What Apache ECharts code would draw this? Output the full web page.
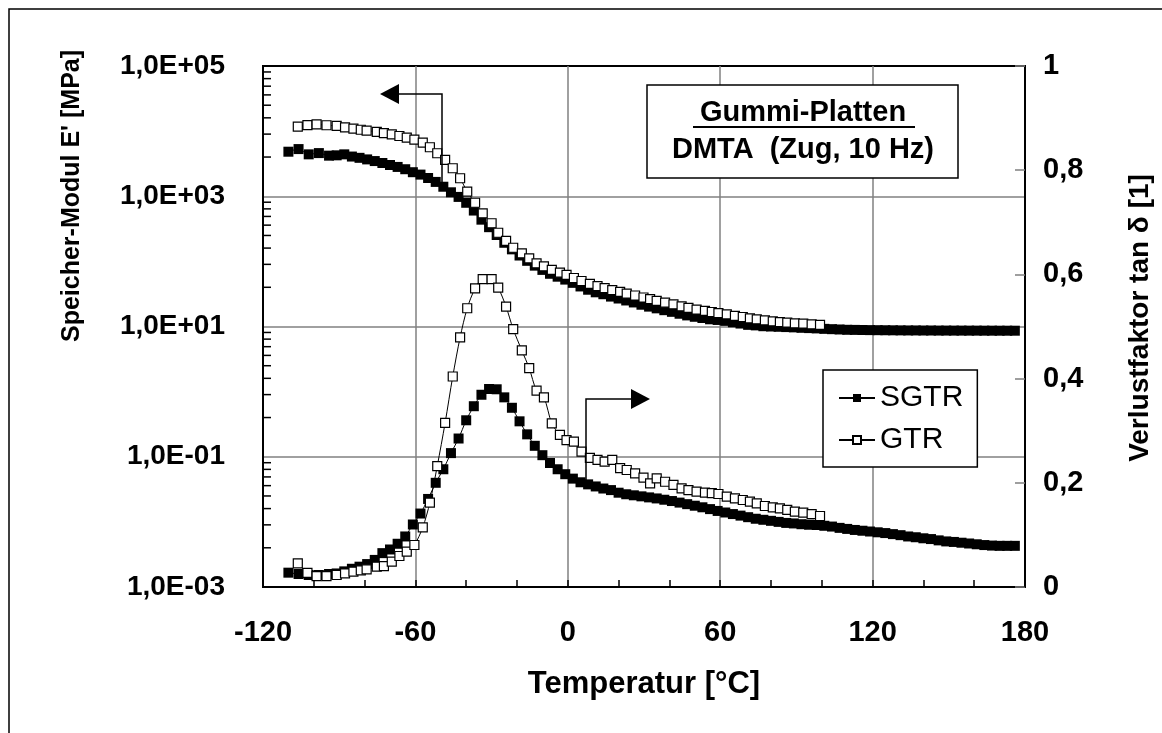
<!DOCTYPE html>
<html>
<head>
<meta charset="utf-8">
<script src="https://cdn.jsdelivr.net/npm/echarts@6/dist/echarts.min.js"></script>
<style>
    html, body { margin: 0; padding: 0; background: #fff; }
    #chart { width: 1162px; height: 733px; }
</style>
</head>
<body>
<div id="chart"></div>
<script>
// SGTR: Temperatur [°C], Speicher-Modul E' [MPa], tan delta [1]
const sgtrTemp = [-110, -106, -102, -98, -94, -91, -88, -85, -82, -79,
    -76, -73, -70, -67, -64, -61, -58, -55, -52, -49,
    -46, -43, -40, -37, -34, -31, -28, -25, -22, -19,
    -16, -13, -10, -7, -4, -1, 2, 5, 8, 11,
    14, 17, 20, 23, 26, 29, 32, 35, 38, 41,
    44, 47, 50, 53, 56, 59, 62, 65, 68, 71,
    74, 77, 80, 83, 86, 89, 92, 95, 98, 101,
    104, 107, 110, 113, 116, 119, 122, 125, 128, 131,
    134, 137, 140, 143, 146, 149, 152, 155, 158, 161,
    164, 167, 170, 173, 176];
const sgtrModul = [4830, 5300, 4400, 4600, 4200, 4250, 4400, 4070, 3890, 3680,
    3470, 3240, 3020, 2820, 2600, 2340, 2150, 1905, 1660, 1400,
    1150, 977, 794, 603, 437, 335, 254, 193, 153, 123,
    102, 86, 74, 64.5, 58.2, 52.5, 46.8, 41.2, 36.7, 33.5,
    31.3, 28.8, 26.9, 25.1, 23.4, 21.6, 20.2, 19.0, 17.8, 16.8,
    15.7, 14.8, 14.1, 13.5, 12.9, 12.6, 12.2, 11.6, 11.1, 10.6,
    10.4, 10.1, 10.0, 9.9, 9.8, 9.7, 9.55, 9.45, 9.35, 9.2,
    9.1, 9.0, 8.9, 8.87, 8.83, 8.8, 8.78, 8.76, 8.74, 8.72,
    8.7, 8.7, 8.68, 8.68, 8.66, 8.66, 8.65, 8.65, 8.64, 8.64,
    8.63, 8.63, 8.62, 8.62, 8.62];
const sgtrTanD = [0.0275, 0.025, 0.023, 0.023, 0.025, 0.026, 0.030, 0.035, 0.039, 0.044,
    0.052, 0.065, 0.072, 0.083, 0.097, 0.12, 0.141, 0.169, 0.200, 0.226,
    0.257, 0.285, 0.32, 0.347, 0.369, 0.380, 0.3795, 0.364, 0.344, 0.318,
    0.293, 0.271, 0.253, 0.238, 0.226, 0.2165, 0.208, 0.201, 0.197, 0.193,
    0.189, 0.186, 0.181, 0.178, 0.176, 0.174, 0.172, 0.17, 0.1675, 0.165,
    0.162, 0.159, 0.156, 0.153, 0.1495, 0.146, 0.143, 0.14, 0.137, 0.134,
    0.131, 0.129, 0.127, 0.125, 0.123, 0.122, 0.1205, 0.1195, 0.119, 0.1175,
    0.116, 0.1135, 0.1115, 0.1095, 0.108, 0.1065, 0.105, 0.1035, 0.1015, 0.0995,
    0.097, 0.0955, 0.0935, 0.092, 0.0895, 0.0875, 0.0865, 0.085, 0.0835, 0.082,
    0.0805, 0.0795, 0.079, 0.079, 0.079];

// GTR: gemessen bis ca. 100 °C
const gtrTemp = [-106.3, -102.5, -98.9, -95, -91, -87.7, -84.4, -81.5, -79.2, -75.2,
    -72.4, -69.3, -66.3, -63.4, -60.4, -57.1, -54.3, -51.4, -48.3, -45.3,
    -42.4, -39.6, -36.5, -33.5, -30, -27.4, -24.3, -21.5, -18.1, -15.2,
    -12.3, -9.4, -6.3, -3.1, -0.5, 2.4, 5.4, 8.7, 11.7, 14.5,
    17.5, 20.6, 23.2, 26.5, 29.8, 32.4, 35, 38.3, 41.6, 44.8,
    47.5, 50.7, 54, 56.7, 59.3, 62.6, 65.8, 68.9, 71.7, 74.4,
    77.6, 80.7, 83.5, 86.4, 89.4, 92.7, 96, 99.3];
const gtrModul = [11700, 12400, 12700, 12300, 12000, 11400, 10900, 10500, 10200, 9770,
    9330, 8910, 8410, 7940, 7410, 6640, 5650, 4570, 3610, 2690,
    1890, 1175, 794, 547, 385, 275, 206, 162, 133, 111,
    93.5, 84, 74, 67, 62, 55.6, 50, 45, 41.7, 38.9,
    36.3, 33.9, 32, 29.9, 27.9, 26.3, 24.8, 23.2, 21.9, 20.4,
    19.3, 18.2, 17.4, 16.7, 16, 15.3, 14.6, 14, 13.3, 12.9,
    12.4, 12, 11.7, 11.5, 11.2, 11.1, 10.8, 10.6];
const gtrTanD = [0.0455, 0.027, 0.021, 0.021, 0.023, 0.026, 0.0294, 0.032, 0.034, 0.039,
    0.040, 0.0486, 0.0595, 0.0678, 0.0806, 0.1146, 0.162, 0.232, 0.315, 0.404,
    0.479, 0.535, 0.573, 0.591, 0.591, 0.5745, 0.538, 0.495, 0.454, 0.42,
    0.377, 0.364, 0.314, 0.292, 0.282, 0.279, 0.26, 0.248, 0.244, 0.2405,
    0.244, 0.228, 0.2246, 0.218, 0.21, 0.199, 0.2086, 0.202, 0.196, 0.1894,
    0.186, 0.183, 0.181, 0.18, 0.1785, 0.1733, 0.170, 0.167, 0.1637, 0.1607,
    0.1555, 0.153, 0.151, 0.148, 0.1445, 0.1426, 0.14, 0.1363];

// Nebenstriche der log-Achse (Excel, Basis 100)
const logMinorFactors = [4, 9, 16, 25, 36, 49, 64, 81];
const logLabelDecades = [1e-3, 1e-1, 1e1, 1e3];

const FONT = '"Liberation Sans", Arial, sans-serif';
const GRID_GRAY = '#808080';
const NONE = 'rgba(0,0,0,0)';

function zip(xs, ys) {
    return xs.map((x, i) => [x, ys[i]]);
}

function formatExp(value) {
    let exp = Math.round(Math.log10(value));
    if ((exp + 3) % 2 !== 0) return '';
    let sign = exp < 0 ? '-' : '+';
    return '1,0E' + sign + String(Math.abs(exp)).padStart(2, '0');
}

function formatComma(value) {
    if (value === 0) return '0';
    if (value === 1) return '1';
    return value.toFixed(1).replace('.', ',');
}

let minorTickData = [];
logLabelDecades.forEach(dec => {
    logMinorFactors.forEach(f => minorTickData.push([-120, dec * f]));
});

function renderMinorTick(params, api) {
    let p = api.coord([api.value(0), api.value(1)]);
    return {
        type: 'line',
        shape: { x1: p[0], y1: p[1], x2: p[0] + 8, y2: p[1] },
        style: { stroke: '#000', lineWidth: 1.5 }
    };
}

function lineSeries(name, data, yAxisIndex, filled) {
    return {
        name: name,
        type: 'line',
        yAxisIndex: yAxisIndex,
        data: data,
        symbol: 'rect',
        symbolSize: filled ? 10 : 9,
        showAllSymbol: true,
        smooth: 0.3,
        itemStyle: filled
            ? { color: '#000', borderColor: '#000', borderWidth: 0 }
            : { color: '#fff', borderColor: '#000', borderWidth: 1.2 },
        lineStyle: { color: '#000', width: 1 },
        z: filled ? 3 : 4
    };
}

let chart = echarts.init(document.getElementById('chart'), null, { renderer: 'canvas' });

chart.setOption({
    animation: false,
    backgroundColor: '#fff',
    textStyle: { fontFamily: FONT },
    grid: {
        left: 263, top: 66, width: 762, height: 521,
        show: true,
        borderColor: '#000',
        borderWidth: 2,
        backgroundColor: NONE
    },
    legend: {
        data: ['SGTR', 'GTR'],
        orient: 'vertical',
        left: 823,
        top: 370,
        padding: [13, 14, 12, 15],
        itemGap: 12,
        itemWidth: 36,
        itemHeight: 10,
        backgroundColor: '#fff',
        borderColor: '#000',
        borderWidth: 1.5,
        borderRadius: 0,
        textStyle: { fontSize: 30, color: '#000', fontFamily: FONT }
    },
    xAxis: {
        type: 'value',
        min: -120,
        max: 180,
        interval: 60,
        name: 'Temperatur [°C]',
        nameLocation: 'middle',
        nameGap: 82,
        nameTextStyle: { fontSize: 31, fontWeight: 'bold', color: '#000', fontFamily: FONT },
        axisLine: { onZero: false, lineStyle: { color: '#000', width: 2 } },
        axisTick: { inside: true, length: 7, lineStyle: { color: '#000', width: 1.5 } },
        minorTick: { show: true, splitNumber: 3, length: 7, lineStyle: { color: '#000', width: 1.5 } },
        splitLine: {
            show: true,
            lineStyle: { color: [NONE, GRID_GRAY, GRID_GRAY, GRID_GRAY, GRID_GRAY, NONE], width: 1.5 }
        },
        axisLabel: { margin: 31, fontSize: 29, fontWeight: 'bold', color: '#000', fontFamily: FONT }
    },
    yAxis: [
        {
            type: 'log',
            logBase: 10,
            min: 0.001,
            max: 100000,
            position: 'left',
            axisLine: { show: true, onZero: false, lineStyle: { color: '#000', width: 2 } },
            axisTick: { show: false },
            splitLine: {
                show: true,
                lineStyle: {
                    color: [NONE, NONE, GRID_GRAY, NONE, GRID_GRAY, NONE, GRID_GRAY, NONE, NONE],
                    width: 1.5
                }
            },
            axisLabel: {
                margin: 38,
                fontSize: 28,
                fontWeight: 'bold',
                color: '#000',
                fontFamily: FONT,
                formatter: formatExp
            }
        },
        {
            type: 'value',
            min: 0,
            max: 1,
            interval: 0.2,
            position: 'right',
            axisLine: { show: true, onZero: false, lineStyle: { color: '#000', width: 2 } },
            axisTick: { show: true, inside: true, length: 10, lineStyle: { color: GRID_GRAY, width: 1.5 } },
            splitLine: { show: false },
            axisLabel: {
                margin: 18,
                fontSize: 29,
                fontWeight: 'bold',
                color: '#000',
                fontFamily: FONT,
                formatter: formatComma
            }
        }
    ],
    series: [
        {
            type: 'custom',
            yAxisIndex: 0,
            silent: true,
            clip: false,
            data: minorTickData,
            renderItem: renderMinorTick,
            z: 5
        },
        lineSeries('SGTR', zip(sgtrTemp, sgtrModul), 0, true),
        lineSeries('SGTR', zip(sgtrTemp, sgtrTanD), 1, true),
        lineSeries('GTR', zip(gtrTemp, gtrModul), 0, false),
        lineSeries('GTR', zip(gtrTemp, gtrTanD), 1, false)
    ],
    graphic: [
        // Rahmen
        {
            type: 'rect',
            shape: { x: 9, y: 9, width: 1170, height: 740 },
            style: { fill: NONE, stroke: '#000', lineWidth: 1.5 },
            silent: true
        },
        // Achsentitel
        {
            type: 'text',
            x: 72, y: 196,
            rotation: Math.PI / 2,
            style: {
                text: "Speicher-Modul E' [MPa]",
                fontSize: 25, fontWeight: 'bold', fontFamily: FONT,
                fill: '#000', align: 'center', verticalAlign: 'middle'
            }
        },
        {
            type: 'text',
            x: 1140, y: 318,
            rotation: Math.PI / 2,
            style: {
                text: 'Verlustfaktor tan δ [1]',
                fontSize: 28, fontWeight: 'bold', fontFamily: FONT,
                fill: '#000', align: 'center', verticalAlign: 'middle'
            }
        },
        // Titelbox
        {
            type: 'rect',
            shape: { x: 647, y: 85, width: 311, height: 93 },
            style: { fill: '#fff', stroke: '#000', lineWidth: 1.5 },
            z: 10
        },
        {
            type: 'text',
            x: 803, y: 113,
            z: 11,
            style: {
                text: 'Gummi-Platten',
                fontSize: 29, fontWeight: 'bold', fontFamily: FONT,
                fill: '#000', align: 'center', verticalAlign: 'middle'
            }
        },
        {
            type: 'line',
            z: 11,
            shape: { x1: 693, y1: 127, x2: 915, y2: 127 },
            style: { stroke: '#000', lineWidth: 2 }
        },
        {
            type: 'text',
            x: 803, y: 150,
            z: 11,
            style: {
                text: 'DMTA  (Zug, 10 Hz)',
                fontSize: 29, fontWeight: 'bold', fontFamily: FONT,
                fill: '#000', align: 'center', verticalAlign: 'middle'
            }
        },
        // Pfeil zur linken Achse
        {
            type: 'polyline',
            z: 11,
            shape: { points: [[442, 183], [442, 94], [396, 94]] },
            style: { stroke: '#000', lineWidth: 1.5, fill: null }
        },
        {
            type: 'polygon',
            z: 11,
            shape: { points: [[380, 94], [399, 84], [399, 104]] },
            style: { fill: '#000' }
        },
        // Pfeil zur rechten Achse
        {
            type: 'polyline',
            z: 11,
            shape: { points: [[586, 480], [586, 399], [632, 399]] },
            style: { stroke: '#000', lineWidth: 1.5, fill: null }
        },
        {
            type: 'polygon',
            z: 11,
            shape: { points: [[650, 399], [631, 389], [631, 409]] },
            style: { fill: '#000' }
        }
    ]
});
</script>
</body>
</html>
